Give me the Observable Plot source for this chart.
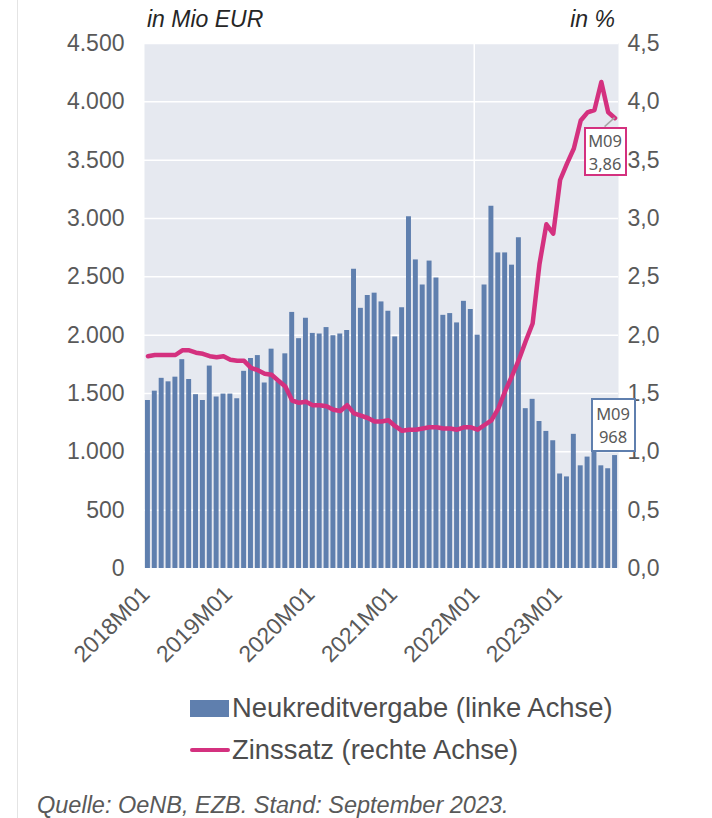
<!DOCTYPE html>
<html>
<head>
<meta charset="utf-8">
<script src="https://cdn.jsdelivr.net/npm/d3@7"></script>
<script src="https://cdn.jsdelivr.net/npm/@observablehq/plot@0.6"></script>
<style>
  body { margin: 0; background: #fff; font-family: "Liberation Sans", Arial, sans-serif; }
  #wrap { position: relative; width: 712px; height: 818px; overflow: hidden; }
  #vline { position: absolute; left: 17px; top: 0; width: 1px; height: 818px; background: #e4e4e4; }
  #chart { position: absolute; left: 0; top: 0; }
  .ttl { position: absolute; top: 6px; font-style: italic; font-size: 23px; line-height: 26px; color: #262626; white-space: nowrap; }
  .leg { position: absolute; font-size: 27.4px; line-height: 30px; color: #4d4d4d; white-space: nowrap; }
  .sw { position: absolute; }
  .cap { position: absolute; left: 37px; top: 792px; font-style: italic; font-size: 23.5px; line-height: 26px; color: #595959; white-space: nowrap; }
  .box { position: absolute; background: #fff; font-family: "Noto Sans", "Open Sans", sans-serif; font-size: 16.5px; line-height: 23px; color: #595959; text-align: center; box-sizing: border-box; }
</style>
</head>
<body>
<div id="wrap">
  <div id="vline"></div>
  <div id="chart"></div>
  <div class="ttl" style="left:147px">in Mio EUR</div>
  <div class="ttl" style="right:97px">in %</div>
  <div class="sw" style="left:190px;top:700px;width:39px;height:17px;background:#5f7fae"></div>
  <div class="leg" style="left:232px;top:693px">Neukreditvergabe (linke Achse)</div>
  <div class="sw" style="left:190px;top:748px;width:40px;height:4px;border-radius:2px;background:#d4317f"></div>
  <div class="leg" style="left:232px;top:735px">Zinssatz (rechte Achse)</div>
  <div class="cap">Quelle: OeNB, EZB. Stand: September 2023.</div>
</div>
<script>
// ---- data ----
const years = ["2018", "2019", "2020", "2021", "2022", "2023"];
const monthCodes = ["M01","M02","M03","M04","M05","M06","M07","M08","M09","M10","M11","M12"];
const months = [];
years.forEach(y => monthCodes.forEach(m => months.push(y + m)));
months.length = 69; // 2018M01 .. 2023M09

// Neukreditvergabe, Mio EUR (linke Achse)
const loans = [
  1440, 1520, 1630, 1600, 1640, 1790, 1620, 1490, 1440, 1735, 1470, 1495,
  1495, 1455, 1690, 1800, 1825, 1590, 1880, 1600, 1840, 2195, 1970, 2145,
  2015, 2010, 2065, 1995, 2010, 2040, 2565, 2230, 2340, 2360, 2285, 2205,
  1985, 2235, 3015, 2645, 2430, 2635, 2490, 2170, 2185, 2105, 2290, 2220,
  2000, 2430, 3105, 2705, 2705, 2600, 2835, 1370, 1450, 1260, 1175, 1095,
  810, 785, 1150, 880, 955, 1040, 880, 855, 968
];
// Zinssatz, % (rechte Achse)
const rates = [
  1.82, 1.83, 1.83, 1.83, 1.83, 1.87, 1.87, 1.85, 1.84, 1.82, 1.81, 1.82,
  1.79, 1.78, 1.78, 1.72, 1.70, 1.67, 1.66, 1.61, 1.56, 1.44, 1.42, 1.43,
  1.40, 1.40, 1.39, 1.36, 1.35, 1.40, 1.33, 1.31, 1.29, 1.26, 1.26, 1.27,
  1.22, 1.18, 1.19, 1.19, 1.20, 1.21, 1.21, 1.20, 1.20, 1.19, 1.21, 1.21,
  1.19, 1.23, 1.27, 1.37, 1.52, 1.65, 1.79, 1.95, 2.10, 2.61, 2.95, 2.87,
  3.33, 3.47, 3.60, 3.84, 3.91, 3.93, 4.17, 3.91, 3.86
];
const xTickLabels = ["2018M01", "2019M01", "2020M01", "2021M01", "2022M01", "2023M01"];
const leftTicks = [0, 500, 1000, 1500, 2000, 2500, 3000, 3500, 4000, 4500];
const rightTicks = [0, 0.5, 1, 1.5, 2, 2.5, 3, 3.5, 4, 4.5];
const lastLabel = { month: "M09", loan: "968", rate: "3,86" };

// ---- build ----
const data = loans.map((v, i) => ({ i, month: months[i], loan: v, rate: rates[i] }));
const xTicks = xTickLabels.map(l => ({ i: months.indexOf(l), label: l }));
const de = d3.formatLocale({ decimal: ",", thousands: ".", grouping: [3], currency: ["", "€"] });
const fmtL = de.format(",.0f");
const fmtR = de.format(".1f");
const rateScale = 1000; // 4,5 % <-> 4.500 on the shared vertical scale

const BAR = "#5f7fae", PINK = "#d4317f";

const chart = Plot.plot({
  width: 712,
  height: 685,
  marginTop: 43,
  marginBottom: 117,
  marginLeft: 144,
  marginRight: 94,
  style: { fontFamily: "Liberation Sans, Arial, sans-serif", fontSize: "23px", color: "#595959", background: "transparent", overflow: "visible" },
  x: { type: "linear", domain: [-0.5, data.length - 0.5], axis: null },
  y: { domain: [0, 4500], axis: null },
  marks: [
    Plot.frame({ fill: "#e6e9f0", stroke: null }),
    Plot.ruleY(leftTicks, { stroke: "white", strokeWidth: 1.5 }),
    Plot.ruleX([months.indexOf("2022M01") - 0.5], { stroke: "white", strokeWidth: 1.5 }),
    Plot.rect(data, { x1: d => d.i - 0.36, x2: d => d.i + 0.36, y1: 0, y2: "loan", fill: BAR }),
    Plot.line(data, { x: "i", y: d => d.rate * rateScale, stroke: PINK, strokeWidth: 4.5, strokeLinejoin: "round", strokeLinecap: "round" }),
    Plot.axisY(leftTicks, { anchor: "left", tickSize: 0, tickPadding: 20, tickFormat: fmtL, label: null }),
    Plot.axisY(rightTicks.map(t => t * rateScale), { anchor: "right", tickSize: 0, tickPadding: 9, tickFormat: d => fmtR(d / rateScale), label: null }),
    Plot.text(xTicks, { x: "i", y: 0, text: "label", rotate: -45, textAnchor: "end", dx: -2, dy: 22, fontSize: 23, fill: "#595959" })
  ]
});
document.getElementById("chart").appendChild(chart);

// ---- end-of-series labels, placed through the plot's scales ----
const sx = chart.scale("x"), sy = chart.scale("y");
const last = data[data.length - 1];
const lx = sx.apply(last.i);
const lyRate = sy.apply(last.rate * rateScale);
const lyLoan = sy.apply(last.loan);
const wrap = document.getElementById("wrap");

const b1 = document.createElement("div");
b1.className = "box";
b1.style.cssText = `left:${lx - 31}px;top:${lyRate + 9}px;width:43px;height:49px;border:2px solid ${PINK};padding-top:0px;`;
b1.innerHTML = `${lastLabel.month}<br>${lastLabel.rate}`;
wrap.appendChild(b1);

const b2 = document.createElement("div");
b2.className = "box";
b2.style.cssText = `left:${lx - 24}px;top:${lyLoan - 57}px;width:45px;height:54px;border:2px solid ${BAR};padding-top:2px;`;
b2.innerHTML = `${lastLabel.month}<br>${lastLabel.loan}`;
wrap.appendChild(b2);

d3.select(chart).append("line")
  .attr("x1", lx).attr("y1", lyRate)
  .attr("x2", lx - 10).attr("y2", lyRate + 9)
  .attr("stroke", "#a6a6a6").attr("stroke-width", 1.5);
</script>
</body>
</html>
